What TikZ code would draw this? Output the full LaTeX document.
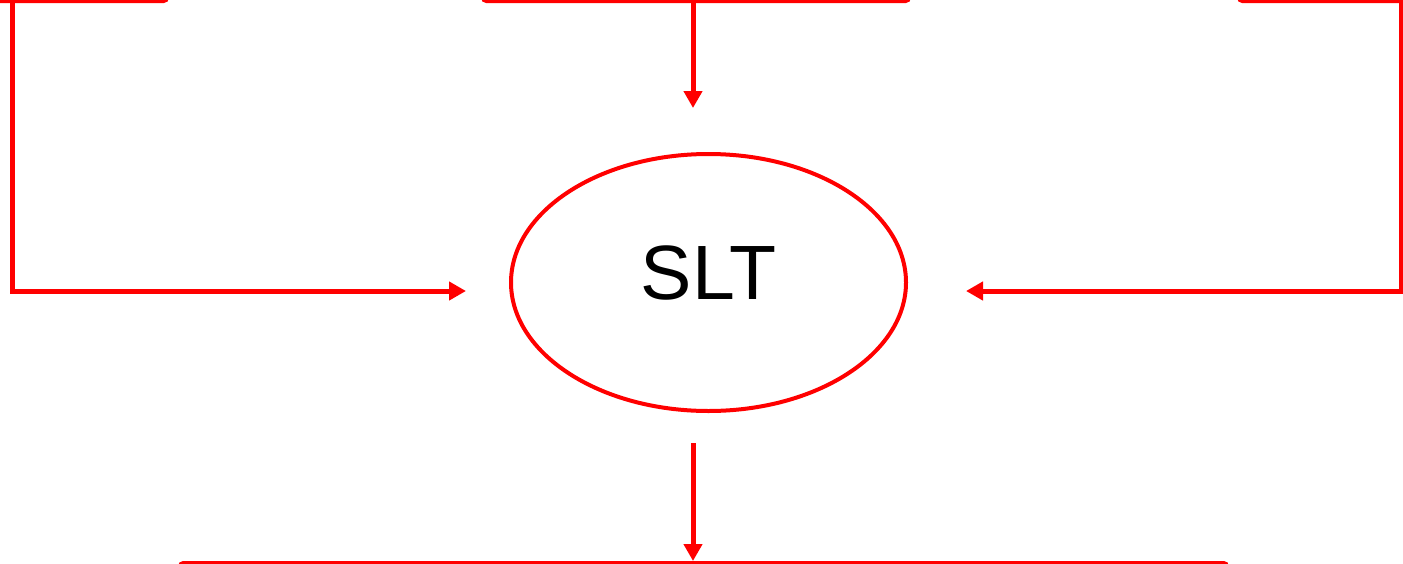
\documentclass[tikz,border=0pt]{standalone}
\usepackage{fontspec}
\setmainfont{Liberation Sans}
\usetikzlibrary{arrows.meta,shapes.geometric}
\begin{document}
\begin{tikzpicture}[x=1pt,y=-1pt,
  flow/.style={draw=red, line width=5pt, -{Triangle[length=17pt,width=18pt]}},
  box/.style={draw=red, line width=5pt, rounded corners=3pt, inner sep=0pt, anchor=south west},
  oval/.style={ellipse, draw=red, line width=4pt, minimum width=395pt, minimum height=257pt,
    inner sep=0pt, font=\fontsize{77}{77}\selectfont, text depth=20pt}]
  \useasboundingbox (0,0) rectangle (1403,563);
  \clip (0,0) rectangle (1403,563);

  % boxes around the central process (only their near edges show)
  \node[box, minimum width=194pt, minimum height=63pt] (inL) at (-30,3) {};
  \node[box, minimum width=425pt, minimum height=63pt] (inM) at (481,3) {};
  \node[box, minimum width=200pt, minimum height=63pt] (inR) at (1237,3) {};
  \node[box, anchor=north west, minimum width=1046pt, minimum height=80pt] (out) at (178,561) {};

  % central process
  \node[oval] (slt) at (708.5,282.5) {SLT};

  % arrow ends and bends
  \coordinate (lCorner) at (12.5,291);
  \coordinate (lTip) at (466,291);
  \coordinate (mTip) at (693,108);
  \coordinate (rCorner) at (1401,291);
  \coordinate (rTip) at (966,291);
  \coordinate (oStart) at (693,443);

  % connectors
  \draw[flow] (inL.south -| lCorner) -- (lCorner) -- (lTip);
  \draw[flow] (inM.south -| mTip) -- (mTip);
  \draw[flow] (inR.south -| rCorner) -- (rCorner) -- (rTip);
  \draw[flow] (oStart) -- (out.north -| oStart);
\end{tikzpicture}
\end{document}
